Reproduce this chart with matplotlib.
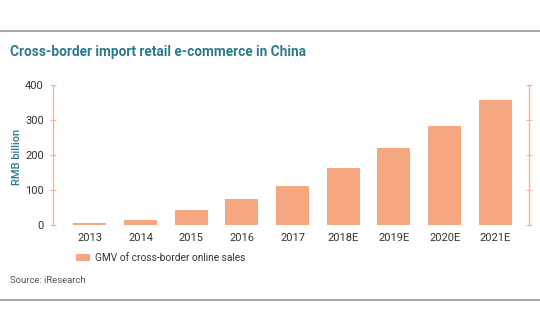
import matplotlib.pyplot as plt
from matplotlib.lines import Line2D

# データ
years = ['2013', '2014', '2015', '2016', '2017', '2018E', '2019E', '2020E', '2021E']
gmv = [7, 16, 42, 74, 112, 163, 220, 284, 357]
yticks = [0, 100, 200, 300, 400]

bar_color = '#F5A77F'
axis_color = '#F2B496'
teal = '#2B7A8C'
text_color = '#333333'

plt.rcParams['font.family'] = ['Roboto', 'DejaVu Sans']

fig = plt.figure(figsize=(5.4, 3.34), dpi=100)
ax = fig.add_axes([0.098, 0.326, 0.882, 0.4192])

x = list(range(len(years)))
ax.bar(x, gmv, width=0.65, color=bar_color, label='GMV of cross-border online sales')

ax.set_xlim(-0.73, 8.67)
ax.set_ylim(0, 400)
ax.set_yticks(yticks)
ax.set_xticks(x)
ax.set_xticklabels(years)

for s in ['top', 'bottom']:
    ax.spines[s].set_visible(False)
for s in ['left', 'right']:
    ax.spines[s].set_color(axis_color)
    ax.spines[s].set_linewidth(1)

ax.tick_params(axis='y', direction='inout', length=5, color=axis_color,
               labelsize=8, labelcolor=text_color, pad=4, right=True)
ax.tick_params(axis='x', length=0, labelsize=8, labelcolor=text_color, pad=6)

ax.set_ylabel('RMB billion', color=teal, fontsize=8, fontweight='medium')
ax.yaxis.set_label_coords(-0.065, 0.49)

# タイトル
fig.text(0.018, 0.845, 'Cross-border import retail e-commerce in China',
         color=teal, fontsize=9.8, fontweight='bold', va='center')

# 凡例
ax.legend(loc='upper left', bbox_to_anchor=(0.04, -0.17), frameon=False,
          fontsize=7.3, handlelength=1.4, handleheight=0.8, labelcolor=text_color,
          borderaxespad=0, handletextpad=0.5)

fig.text(0.018, 0.16, 'Source: iResearch', color='#555555', fontsize=6.8, va='center')

# 枠線
fig.add_artist(Line2D([0, 1], [1 - 31 / 334, 1 - 31 / 334], color='#9A9A9A', lw=1.2))
fig.add_artist(Line2D([0, 1], [1 - 300 / 334, 1 - 300 / 334], color='#9A9A9A', lw=1.2))

fig.savefig('out.png', dpi=100)
